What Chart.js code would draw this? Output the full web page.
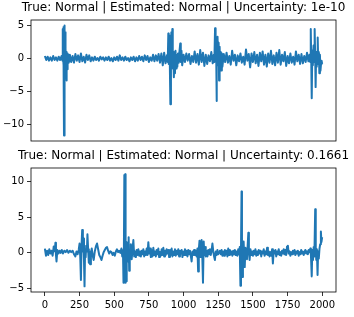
<!DOCTYPE html>
<html>
<head>
<meta charset="utf-8">
<script src="https://cdn.jsdelivr.net/npm/chart.js@4"></script>
<style>
  body { margin: 0; background: #fff; }
  #wrap { position: relative; width: 354px; height: 317px; background: #fff; }
  canvas { position: absolute; left: 0; }
</style>
</head>
<body>
<div id="wrap">
  <canvas id="top" width="354" height="150" style="top:0px"></canvas>
  <canvas id="bottom" width="354" height="167" style="top:150px"></canvas>
</div>
<script>
// titles
const topTitle = 'True: Normal | Estimated: Normal | Uncertainty: 1e-10';
const bottomTitle = 'True: Normal | Estimated: Normal | Uncertainty: 0.1661';

// x tick labels (bottom plot only), y ticks for each plot
const xTicks = [0, 250, 500, 750, 1000, 1250, 1500, 1750, 2000];
const topYTicks = [-10, -5, 0, 5];
const bottomYTicks = [-5, 0, 5, 10];

// top signal (each x line matches the y line below it)
const topX = [
  0,10,20,30,40,50,60,70,80,90,100,110,120,
  126,129,131,134,136,138,140,142,144,146,148,150,153,156,158,161,164,168,172,176,
  180,190,200,210,220,230,240,250,260,270,280,290,300,310,320,330,
  340,350,360,370,380,390,400,410,420,430,440,450,460,470,480,490,500,510,520,530,540,550,560,570,580,590,600,610,620,
  630,640,650,660,670,680,690,700,710,720,730,740,750,760,770,780,790,800,810,820,830,840,850,860,870,880,
  886,890,893,896,900,905,909,912,915,919,922,926,930,934,938,942,946,950,955,960,965,970,976,980,985,990,
  1000,1010,1020,1030,1040,1050,1060,1070,1080,1090,1100,1110,1120,1130,1140,1150,1160,1170,1180,1190,1200,1210,1218,
  1222,1227,1231,1234,1237,1241,1245,1249,1253,1256,1260,1264,1268,1272,1276,1280,
  1290,1300,1310,1320,1330,1340,1350,1360,1370,1380,1390,1400,1410,1420,1430,1440,1450,1460,1470,1480,1490,1500,
  1510,1520,1530,1540,1550,1560,1570,1580,1590,1600,1610,1620,1630,1640,1650,1660,1670,1680,1690,1700,
  1710,1720,1730,1740,1750,1760,1770,1780,1790,1800,1810,1820,1830,1840,1850,1860,1870,1880,1890,1900,1908,
  1913,1917,1920,1924,1928,1932,1937,1941,1945,1949,1952,1956,1960,1964,1967,1971,1975,1979,1983,1987,1991,1995,1999];
const topY = [
  0.4,-0.2,0.3,-0.3,0.2,-0.3,0.4,-0.2,0.2,-0.3,0.3,-0.2,0.4,
  -0.3,4.5,0.2,4.8,-1.0,-11.6,3.0,5.0,-0.5,4.0,-2.0,1.5,-0.8,-3.3,1.0,-1.6,0.8,-0.6,0.5,-0.4,
  0.6,-0.5,0.4,-0.6,0.7,-0.3,0.5,-0.5,0.8,-0.4,0.3,-0.6,0.6,-0.2,0.5,-0.4,
  0.2,-0.3,0.3,-0.2,0.1,-0.3,0.3,-0.1,0.2,-0.3,0.2,-0.2,0.3,-0.3,0.1,-0.4,0.2,-0.2,0.3,-0.3,0.5,-0.2,0.2,-0.3,0.3,-0.2,0.1,-0.4,0.2,
  -0.2,0.3,-0.4,0.2,-0.3,0.4,-0.2,0.3,-0.4,0.5,-0.2,0.4,-0.5,0.2,-0.3,0.6,-0.4,0.5,-0.3,0.7,-0.6,0.8,-1.0,0.9,-0.7,0.5,
  -0.5,3.8,-0.8,3.5,0.5,-6.9,2.0,4.0,-0.5,4.5,-1.5,1.0,-2.8,0.8,-2.2,1.2,-1.5,0.5,-1.2,0.8,-0.6,1.0,2.3,-0.5,1.2,-1.0,
  0.6,-0.5,0.8,-0.3,0.7,-0.8,0.4,-0.5,1.1,-0.6,0.7,-0.9,1.3,-0.5,0.9,-1.1,0.6,-0.8,0.5,-0.4,1.0,-0.7,0.6,
  -0.5,4.6,0.5,3.0,-6.4,1.5,3.3,-1.0,2.4,-3.3,1.8,-1.5,1.0,-1.8,0.8,-1.2,
  0.7,-0.5,0.9,-0.6,0.4,-0.9,1.2,-0.3,0.6,-1.0,0.5,-0.4,0.8,-0.6,0.3,-0.9,1.4,-0.3,0.7,-1.3,0.8,-0.5,
  1.0,-0.7,0.6,-1.1,0.9,-0.4,1.1,-0.9,0.6,-1.2,0.8,-0.6,1.2,-0.8,0.5,-1.0,0.9,-0.6,1.3,-0.9,
  0.6,-0.4,1.0,-1.1,0.4,-0.7,0.8,-0.6,0.3,-0.9,1.1,-0.4,0.6,-0.8,0.7,-0.7,0.4,-0.5,0.9,-0.4,0.6,
  -0.5,4.5,0.5,-6.0,1.2,-1.0,2.0,-0.5,4.5,0.2,-4.3,1.0,-1.2,0.8,3.2,-0.8,1.0,-2.2,0.6,-1.8,-0.8,-0.3,-0.8];

// bottom signal
const bottomX = [
  0,8,16,24,32,40,48,56,64,72,76,80,84,90,98,106,114,122,130,140,150,160,170,180,190,200,210,220,228,236,244,
  250,255,260,264,269,274,278,282,286,290,294,298,303,307,312,317,322,326,332,338,345,352,360,368,376,384,392,400,408,416,424,
  432,440,448,456,464,472,480,488,496,504,512,520,528,536,544,552,558,563,567,570,573,576,579,582,585,588,592,596,600,604,608,
  612,616,620,
  626,632,638,644,650,656,662,668,674,680,
  686,692,698,704,710,716,722,728,734,740,
  746,752,758,764,770,776,782,788,794,800,
  806,812,818,824,830,836,842,848,854,860,
  866,872,878,884,890,896,902,908,914,920,
  926,932,938,944,950,956,962,968,974,980,
  986,992,998,1004,1010,1016,1022,1028,1034,1040,
  1046,1052,1058,1064,1070,1076,1082,1088,1094,1100,
  1105,1110,1115,1120,1125,1130,1135,1140,1145,1150,1155,1160,
  1166,1172,1178,1184,1190,1196,1202,1208,1214,1220,
  1226,1232,1238,1244,1250,1256,1262,1268,1274,1280,
  1286,1292,1298,1304,1310,1316,1322,1328,1334,1340,
  1346,1352,1358,1364,1370,1376,1382,1388,1394,1400,
  1405,1410,1414,1418,1421,1424,1428,1433,1437,1441,1446,1452,1457,1462,1467,1471,1476,1482,1488,1494,1500,
  1506,1512,1518,1524,1530,1536,1542,1548,1554,1560,
  1566,1572,1578,1584,1590,1596,1602,1608,1614,1620,
  1626,1632,1638,1644,1650,1656,1662,1668,1674,1680,
  1686,1692,1698,1704,1710,1716,1722,1728,1734,1740,
  1746,1752,1758,1764,1770,1776,1782,1788,1794,1800,
  1806,1812,1818,1824,1830,1836,1842,1848,1854,1860,
  1866,1872,1878,1884,1890,1896,1902,1908,1914,
  1918,1924,1928,1933,1938,1943,1949,1953,1957,1961,1966,1970,1975,1980,1985,1990,1994,1999];
const bottomY = [
  0.6,-0.4,0.3,-0.3,0.5,-0.1,0.3,-0.4,0.9,0.2,1.4,-0.3,-1.2,0.4,-0.1,0.3,0.0,0.4,-0.1,0.3,0.1,0.4,0.0,0.3,0.1,0.3,-0.2,-0.5,0.2,-0.2,0.4,
  1.3,-0.5,-3.8,0.8,3.2,0.2,2.0,-1.0,-4.7,0.5,-0.6,1.0,0.2,2.6,0.5,-1.4,0.2,-1.6,0.0,0.6,-0.4,-1.0,0.2,0.9,1.3,0.5,-0.3,-0.6,-1.0,-0.4,0.1,
  0.4,0.7,0.8,0.3,-0.1,0.2,0.1,-0.3,0.0,-0.4,0.2,0.5,0.1,0.3,0.0,0.6,-0.5,0.4,-4.2,1.0,10.9,-0.5,11.0,-4.2,0.5,-4.0,1.5,-1.2,0.8,2.2,-2.5,
  0.3,-0.8,1.2,
  -0.9,0.5,1.8,-0.5,0.2,-0.6,0.4,-0.3,0.5,-0.4,
  0.2,-0.5,0.3,-0.2,0.5,-0.5,0.2,-0.3,0.6,-0.3,
  1.5,-0.1,0.6,-0.6,0.4,-0.5,0.7,-0.3,0.2,-0.5,
  0.4,-0.2,0.6,-0.6,0.1,-0.4,0.5,-0.3,0.7,-0.5,
  0.3,-0.3,0.5,-0.1,0.4,-0.6,0.4,-0.3,0.6,-0.5,
  0.2,-0.3,0.5,-0.4,0.3,-0.2,0.5,-0.5,0.3,-0.1,
  0.4,-0.6,0.2,-0.3,0.5,-0.3,0.3,-0.5,0.4,-0.2,
  0.3,-0.4,-1.2,0.2,-0.3,0.4,-0.3,0.3,-0.5,0.6,
  -2.6,0.5,1.7,-0.6,0.6,1.8,-0.4,-4.2,1.6,-0.3,0.8,-0.5,
  0.3,-0.5,0.4,-0.2,0.5,-0.3,0.3,1.3,0.2,-0.5,
  -1.0,0.2,-0.3,0.4,-0.2,0.1,0.3,-0.2,0.4,-0.4,
  0.2,-0.4,0.4,-0.2,0.3,-0.5,0.6,-0.3,0.4,-0.2,
  0.2,-0.4,0.3,-0.2,0.4,-0.3,0.2,-0.4,0.5,-0.2,
  0.8,-4.6,0.5,8.6,1.0,-3.4,0.6,1.6,-0.5,-2.0,0.7,0.3,-0.9,1.0,2.8,0.2,-1.0,0.5,-0.3,0.2,-0.4,
  0.3,-0.2,0.5,-0.4,0.2,-0.3,0.4,-0.1,0.3,-0.5,
  0.2,-0.1,0.5,-0.4,0.2,-0.2,0.7,-0.3,0.2,-0.5,
  0.1,-0.4,0.5,-1.5,0.3,-0.1,0.4,-0.5,0.2,-0.2,
  0.5,-0.3,0.1,-0.4,0.3,-0.1,0.5,-0.2,0.4,-0.3,
  0.9,1.0,-0.1,0.2,-0.4,0.1,-0.2,0.3,-0.1,0.4,
  -0.3,0.2,-0.1,0.3,-0.4,0.1,-0.2,0.4,-0.1,0.2,
  -0.3,0.1,0.4,-0.1,0.2,-0.2,0.4,0.1,0.6,
  -0.2,-3.3,0.4,-1.0,0.8,-0.5,6.1,0.3,-1.0,0.5,-3.1,0.2,-0.8,0.6,1.2,3.0,1.5,2.2];

const minus = v => String(v).replace('-', '\u2212');

// draws the full box around the plot area and the title above it
function framePlugin(title) {
  return {
    id: 'frame',
    afterDraw(chart) {
      const a = chart.chartArea;
      const ctx = chart.ctx;
      ctx.save();
      ctx.strokeStyle = '#000';
      ctx.lineWidth = 0.8;
      ctx.strokeRect(a.left, a.top, a.right - a.left, a.bottom - a.top);
      ctx.fillStyle = '#000';
      ctx.font = '12px "DejaVu Sans"';
      ctx.textAlign = 'center';
      ctx.textBaseline = 'middle';
      ctx.fillText(title, (a.left + a.right) / 2, a.top - 12);
      ctx.restore();
    }
  };
}

function makeChart(id, xs, ys, title, yMin, yMax, yTicks, showX, pad) {
  if (xs.length !== ys.length) console.error('length mismatch', id, xs.length, ys.length);
  const points = xs.map((x, i) => ({ x: x, y: ys[i] }));
  return new Chart(document.getElementById(id), {
    type: 'line',
    data: {
      datasets: [{
        data: points,
        borderColor: '#1f77b4',
        borderWidth: 2,
        borderJoinStyle: 'round',
        pointRadius: 0,
        tension: 0,
        fill: false
      }]
    },
    options: {
      responsive: false,
      animation: false,
      devicePixelRatio: 1,
      layout: { padding: pad },
      plugins: { legend: { display: false }, tooltip: { enabled: false }, title: { display: false } },
      scales: {
        x: {
          type: 'linear',
          display: showX,
          min: -99.95,
          max: 2098.95,
          afterBuildTicks: s => { s.ticks = xTicks.map(v => ({ value: v })); },
          afterFit: s => { if (showX) s.height = 25; },
          border: { display: false },
          grid: { drawOnChartArea: false, drawTicks: true, tickLength: 4, color: '#000', lineWidth: 0.8 },
          ticks: { autoSkip: false, maxRotation: 0, padding: 3, color: '#000',
                   font: { family: '"DejaVu Sans"', size: 10 }, callback: v => minus(v) }
        },
        y: {
          min: yMin,
          max: yMax,
          afterBuildTicks: s => { s.ticks = yTicks.map(v => ({ value: v })); },
          afterFit: s => { s.width = 31; },
          border: { display: false },
          grid: { drawOnChartArea: false, drawTicks: true, tickLength: 4, color: '#000', lineWidth: 0.8 },
          ticks: { padding: 3, color: '#000',
                   font: { family: '"DejaVu Sans"', size: 10 }, callback: v => minus(v) }
        }
      }
    },
    plugins: [framePlugin(title)]
  });
}

makeChart('top', topX, topY, topTitle, -12.45, 5.85, topYTicks, false,
  { top: 20, right: 18, bottom: 7, left: 0 });
makeChart('bottom', bottomX, bottomY, bottomTitle, -5.49, 11.89, bottomYTicks, true,
  { top: 18, right: 18, bottom: 0, left: 0 });
</script>
</body>
</html>
